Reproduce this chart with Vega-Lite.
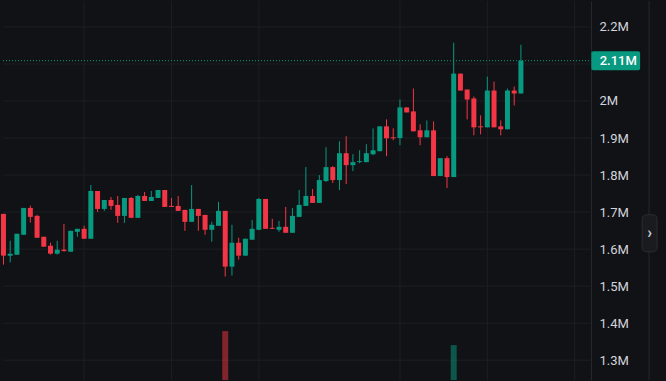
{
  "$schema": "https://vega.github.io/schema/vega-lite/v6.json",
  "autosize": {"type": "fit", "contains": "padding"},
  "padding": 0,
  "width": 666,
  "height": 381,
  "background": "#111215",
  "config": {
    "view": {"stroke": null},
    "font": "Roboto",
    "scale": {"continuousPadding": 0},
    "axis": {"title": null, "grid": false, "ticks": false, "domainColor": "#26282d", "labelFont": "Roboto", "labelFontSize": 13, "labelColor": "#d1d4dc", "labelPadding": 8}
  },
  "resolve": {"scale": {"y": "independent"}},
  "layer": [
    {
      "layer": [
        {
          "data": {"values": [
            {"tick": 1300000}, {"tick": 1400000}, {"tick": 1500000}, {"tick": 1600000}, {"tick": 1700000},
            {"tick": 1800000}, {"tick": 1900000}, {"tick": 2000000}, {"tick": 2100000}, {"tick": 2200000}
          ]},
          "mark": {"type": "rule", "color": "#1d1f23", "strokeWidth": 1},
          "encoding": {
            "x": {"datum": -0.07, "type": "quantitative", "scale": {"domain": [-0.07, 98.59], "nice": false, "zero": false, "padding": 0}, "axis": null},
            "x2": {"datum": 87.48},
            "y": {"field": "tick", "type": "quantitative",
              "scale": {"domain": [1246500, 2270000], "nice": false, "zero": false, "padding": 0},
              "axis": {"orient": "right", "offset": -75, "domain": true, "grid": false, "ticks": false,
                "values": [1300000, 1400000, 1500000, 1600000, 1700000, 1800000, 1900000, 2000000, 2100000, 2200000],
                "labelExpr": "datum.value == 2100000 ? '' : format(datum.value / 1000000, '.1~f') + 'M'",
                "labelOverlap": false, "labelBound": false, "title": null}}
          }
        },
        {
          "data": {"values": [{"t": 12}, {"t": 25}, {"t": 38}, {"t": 59}, {"t": 72}, {"t": 85}]},
          "mark": {"type": "rule", "color": "#1d1f23", "strokeWidth": 1},
          "encoding": {
            "x": {"field": "t", "type": "quantitative", "scale": {"domain": [-0.07, 98.59], "nice": false, "zero": false, "padding": 0}}
          }
        }
      ]
    },
    {
      "data": {"values": [
        {"i": 33, "volume": 12.9, "direction": "down"},
        {"i": 67, "volume": 9.2, "direction": "up"}
      ]},
      "mark": {"type": "bar", "width": 6, "opacity": 0.5},
      "encoding": {
        "x": {"field": "i", "type": "quantitative", "scale": {"domain": [-0.07, 98.59], "nice": false, "zero": false, "padding": 0}, "axis": null},
        "y": {"field": "volume", "type": "quantitative", "scale": {"domain": [0, 100], "nice": false, "padding": 0}, "axis": null},
        "color": {"field": "direction", "type": "nominal", "scale": {"domain": ["up", "down"], "range": ["#089981", "#f23645"]}, "legend": null}
      }
    },
    {
      "layer": [
        {
          "data": {"name": "candles", "values": [
            {"i": 0, "o": 1695100, "h": 1695100, "l": 1558100, "c": 1582300},
            {"i": 1, "o": 1582300, "h": 1622600, "l": 1564300, "c": 1587700},
            {"i": 2, "o": 1585000, "h": 1641400, "l": 1585000, "c": 1641400},
            {"i": 3, "o": 1638700, "h": 1711200, "l": 1638700, "c": 1711200},
            {"i": 4, "o": 1711200, "h": 1717400, "l": 1671700, "c": 1687000},
            {"i": 5, "o": 1689700, "h": 1692400, "l": 1630600, "c": 1630600},
            {"i": 6, "o": 1633300, "h": 1633300, "l": 1606400, "c": 1606400},
            {"i": 7, "o": 1609100, "h": 1617200, "l": 1585000, "c": 1587700},
            {"i": 8, "o": 1587700, "h": 1622600, "l": 1585000, "c": 1598400},
            {"i": 9, "o": 1598400, "h": 1668200, "l": 1593000, "c": 1594900},
            {"i": 10, "o": 1593000, "h": 1649400, "l": 1593000, "c": 1649400},
            {"i": 11, "o": 1646700, "h": 1654800, "l": 1633300, "c": 1654800},
            {"i": 12, "o": 1654800, "h": 1662900, "l": 1628000, "c": 1628000},
            {"i": 13, "o": 1628000, "h": 1773000, "l": 1628000, "c": 1756900},
            {"i": 14, "o": 1756900, "h": 1756900, "l": 1700500, "c": 1708500},
            {"i": 15, "o": 1708500, "h": 1732700, "l": 1703200, "c": 1732700},
            {"i": 16, "o": 1732700, "h": 1740800, "l": 1705900, "c": 1716600},
            {"i": 17, "o": 1719300, "h": 1743500, "l": 1670900, "c": 1689700},
            {"i": 18, "o": 1689700, "h": 1738100, "l": 1670900, "c": 1738100},
            {"i": 19, "o": 1738100, "h": 1740800, "l": 1684400, "c": 1684400},
            {"i": 20, "o": 1684400, "h": 1746200, "l": 1684400, "c": 1743500},
            {"i": 21, "o": 1743500, "h": 1754200, "l": 1730000, "c": 1730000},
            {"i": 22, "o": 1730000, "h": 1756900, "l": 1730000, "c": 1740800},
            {"i": 23, "o": 1738100, "h": 1759600, "l": 1738100, "c": 1759600},
            {"i": 24, "o": 1759600, "h": 1759600, "l": 1713900, "c": 1713900},
            {"i": 25, "o": 1716600, "h": 1738100, "l": 1713900, "c": 1713900},
            {"i": 26, "o": 1716600, "h": 1743500, "l": 1703200, "c": 1703200},
            {"i": 27, "o": 1705900, "h": 1705900, "l": 1649400, "c": 1673600},
            {"i": 28, "o": 1673600, "h": 1773000, "l": 1673600, "c": 1708500},
            {"i": 29, "o": 1708500, "h": 1708500, "l": 1649400, "c": 1689700},
            {"i": 30, "o": 1692400, "h": 1692400, "l": 1638700, "c": 1652100},
            {"i": 31, "o": 1652100, "h": 1673600, "l": 1619900, "c": 1665600},
            {"i": 32, "o": 1662900, "h": 1727400, "l": 1662900, "c": 1703200},
            {"i": 33, "o": 1703200, "h": 1703200, "l": 1525900, "c": 1552700},
            {"i": 34, "o": 1552700, "h": 1665600, "l": 1528600, "c": 1617200},
            {"i": 35, "o": 1617200, "h": 1630600, "l": 1571500, "c": 1582300},
            {"i": 36, "o": 1582300, "h": 1628000, "l": 1582300, "c": 1628000},
            {"i": 37, "o": 1625300, "h": 1679000, "l": 1625300, "c": 1654800},
            {"i": 38, "o": 1652100, "h": 1738100, "l": 1652100, "c": 1735400},
            {"i": 39, "o": 1735400, "h": 1735400, "l": 1654800, "c": 1654800},
            {"i": 40, "o": 1657500, "h": 1681700, "l": 1654800, "c": 1654800},
            {"i": 41, "o": 1652100, "h": 1676300, "l": 1646700, "c": 1660200},
            {"i": 42, "o": 1660200, "h": 1713900, "l": 1644100, "c": 1644100},
            {"i": 43, "o": 1644100, "h": 1711200, "l": 1644100, "c": 1689700},
            {"i": 44, "o": 1687000, "h": 1759600, "l": 1687000, "c": 1719300},
            {"i": 45, "o": 1716600, "h": 1821400, "l": 1716600, "c": 1743500},
            {"i": 46, "o": 1743500, "h": 1762300, "l": 1724700, "c": 1724700},
            {"i": 47, "o": 1724700, "h": 1799900, "l": 1724700, "c": 1786400},
            {"i": 48, "o": 1783800, "h": 1875100, "l": 1781100, "c": 1821400},
            {"i": 49, "o": 1821400, "h": 1824100, "l": 1778400, "c": 1786400},
            {"i": 50, "o": 1786400, "h": 1891200, "l": 1759600, "c": 1859000},
            {"i": 51, "o": 1859000, "h": 1904700, "l": 1775700, "c": 1826700},
            {"i": 52, "o": 1826700, "h": 1856300, "l": 1810600, "c": 1834800},
            {"i": 53, "o": 1834800, "h": 1867000, "l": 1832100, "c": 1837500},
            {"i": 54, "o": 1834800, "h": 1883200, "l": 1834800, "c": 1859000},
            {"i": 55, "o": 1856300, "h": 1926100, "l": 1853600, "c": 1867000},
            {"i": 56, "o": 1864400, "h": 1931500, "l": 1864400, "c": 1931500},
            {"i": 57, "o": 1931500, "h": 1950300, "l": 1850900, "c": 1899300},
            {"i": 58, "o": 1902000, "h": 1926100, "l": 1893900, "c": 1899300},
            {"i": 59, "o": 1900100, "h": 2004000, "l": 1880500, "c": 1982600},
            {"i": 60, "o": 1982600, "h": 1982600, "l": 1969100, "c": 1969100},
            {"i": 61, "o": 1971800, "h": 2033600, "l": 1918100, "c": 1918100},
            {"i": 62, "o": 1920800, "h": 1936900, "l": 1880500, "c": 1902000},
            {"i": 63, "o": 1902000, "h": 1947600, "l": 1902000, "c": 1920800},
            {"i": 64, "o": 1920800, "h": 1944900, "l": 1797200, "c": 1797200},
            {"i": 65, "o": 1797200, "h": 1845600, "l": 1797200, "c": 1845600},
            {"i": 66, "o": 1845600, "h": 1850900, "l": 1765000, "c": 1794500},
            {"i": 67, "o": 1794500, "h": 2157200, "l": 1794500, "c": 2073900},
            {"i": 68, "o": 2073900, "h": 2073900, "l": 2028200, "c": 2028200},
            {"i": 69, "o": 2030900, "h": 2030900, "l": 1950300, "c": 2004000},
            {"i": 70, "o": 2006700, "h": 2012100, "l": 1907300, "c": 1928800},
            {"i": 71, "o": 1931500, "h": 1961100, "l": 1910000, "c": 1928800},
            {"i": 72, "o": 1928800, "h": 2065800, "l": 1928800, "c": 2028200},
            {"i": 73, "o": 2028200, "h": 2052400, "l": 1928800, "c": 1928800},
            {"i": 74, "o": 1931500, "h": 1947600, "l": 1907300, "c": 1923500},
            {"i": 75, "o": 1923500, "h": 2033600, "l": 1923500, "c": 2028200},
            {"i": 76, "o": 2028200, "h": 2039000, "l": 1987900, "c": 2020200},
            {"i": 77, "o": 2020200, "h": 2151800, "l": 2020200, "c": 2108800}
          ]},
          "layer": [
            {
              "mark": {"type": "rule", "strokeWidth": 1},
              "encoding": {
                "x": {"field": "i", "type": "quantitative", "scale": {"domain": [-0.07, 98.59], "nice": false, "zero": false, "padding": 0}},
                "y": {"field": "l", "type": "quantitative", "scale": {"domain": [1246500, 2270000], "nice": false, "zero": false, "padding": 0}, "axis": null},
                "y2": {"field": "h"},
                "color": {"condition": {"test": "datum.c >= datum.o", "value": "#089981"}, "value": "#f23645"}
              }
            },
            {
              "mark": {"type": "bar", "width": 5},
              "encoding": {
                "x": {"field": "i", "type": "quantitative", "scale": {"domain": [-0.07, 98.59], "nice": false, "zero": false, "padding": 0}},
                "y": {"field": "o", "type": "quantitative", "scale": {"domain": [1246500, 2270000], "nice": false, "zero": false, "padding": 0}, "axis": null},
                "y2": {"field": "c"},
                "color": {"condition": {"test": "datum.c >= datum.o", "value": "#089981"}, "value": "#f23645"}
              }
            }
          ]
        },
        {
          "data": {"values": [{"price": 2108800, "label": "2.11M"}]},
          "layer": [
            {
              "mark": {"type": "rule", "strokeDash": [1, 2], "color": "#089981", "strokeWidth": 1},
              "encoding": {
                "x": {"datum": -0.07, "type": "quantitative", "scale": {"domain": [-0.07, 98.59], "nice": false, "zero": false, "padding": 0}},
                "x2": {"datum": 87.48},
                "y": {"field": "price", "type": "quantitative", "scale": {"domain": [1246500, 2270000], "nice": false, "zero": false, "padding": 0}, "axis": null}
              }
            },
            {
              "mark": {"type": "bar", "height": 19, "cornerRadius": 2, "color": "#089981"},
              "encoding": {
                "x": {"datum": 87.48, "type": "quantitative", "scale": {"domain": [-0.07, 98.59], "nice": false, "zero": false, "padding": 0}},
                "x2": {"datum": 94.74},
                "y": {"field": "price", "type": "quantitative", "scale": {"domain": [1246500, 2270000], "nice": false, "zero": false, "padding": 0}, "axis": null}
              }
            },
            {
              "mark": {"type": "text", "align": "left", "baseline": "middle", "color": "#ffffff", "fontSize": 13, "font": "Roboto", "fontWeight": 500},
              "encoding": {
                "x": {"datum": 88.72, "type": "quantitative", "scale": {"domain": [-0.07, 98.59], "nice": false, "zero": false, "padding": 0}},
                "y": {"field": "price", "type": "quantitative", "scale": {"domain": [1246500, 2270000], "nice": false, "zero": false, "padding": 0}, "axis": null},
                "text": {"field": "label"}
              }
            }
          ]
        },
        {
          "data": {"values": [{"edge": 96.07, "mid": 1642700, "glyph": "›"}]},
          "layer": [
            {
              "mark": {"type": "rule", "color": "#26282d", "strokeWidth": 1},
              "encoding": {
                "x": {"field": "edge", "type": "quantitative", "scale": {"domain": [-0.07, 98.59], "nice": false, "zero": false, "padding": 0}}
              }
            },
            {
              "mark": {"type": "bar", "height": 37, "cornerRadius": 4, "color": "#1a1b1f", "stroke": "#2c2d33", "strokeWidth": 1},
              "encoding": {
                "x": {"datum": 95.04, "type": "quantitative", "scale": {"domain": [-0.07, 98.59], "nice": false, "zero": false, "padding": 0}},
                "x2": {"datum": 97.26},
                "y": {"field": "mid", "type": "quantitative", "scale": {"domain": [1246500, 2270000], "nice": false, "zero": false, "padding": 0}, "axis": null}
              }
            },
            {
              "mark": {"type": "text", "align": "center", "baseline": "middle", "color": "#c8cad0", "fontSize": 16, "font": "Roboto", "fontWeight": "bold"},
              "encoding": {
                "x": {"datum": 96.15, "type": "quantitative", "scale": {"domain": [-0.07, 98.59], "nice": false, "zero": false, "padding": 0}},
                "y": {"field": "mid", "type": "quantitative", "scale": {"domain": [1246500, 2270000], "nice": false, "zero": false, "padding": 0}, "axis": null},
                "text": {"field": "glyph"}
              }
            }
          ]
        }
      ]
    }
  ]
}
